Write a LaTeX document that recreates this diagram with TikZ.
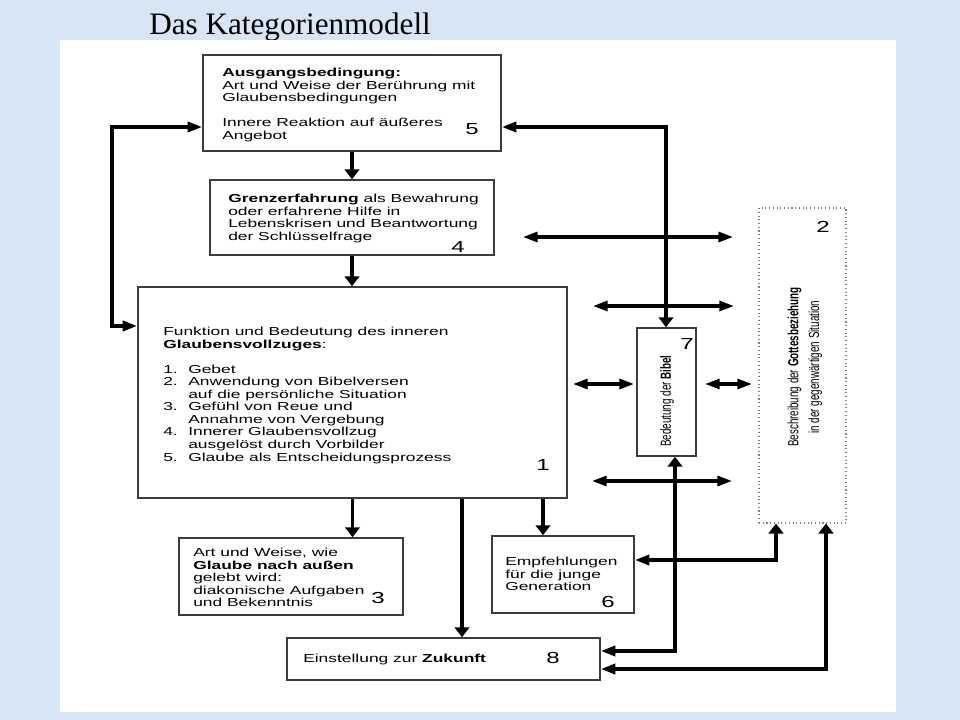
\documentclass[tikz,border=0pt]{standalone}
\usepackage{fontspec}
\setmainfont{Liberation Serif}
\newfontfamily\bxfont[FakeStretch=1.5]{Liberation Sans}
\newfontfamily\rtfont[FakeStretch=0.67]{Liberation Sans}
\usetikzlibrary{arrows.meta,fit}
\definecolor{bgblue}{RGB}{216,229,245}
\definecolor{edgegray}{RGB}{60,60,60}
\tikzset{
  vtip/.tip={Triangle[length=7.5pt,width=11pt]},
  htip/.tip={Triangle[length=11pt,width=7.5pt]}
}
\begin{document}
\begin{tikzpicture}[x=0.75pt,y=-0.75pt,
  box/.style={draw=edgegray,line width=1.1pt,fill=white,inner sep=0pt},
  dotbox/.style={draw=gray,line width=0.8pt,dotted,fill=white,inner sep=0pt},
  txt/.style={font=\bxfont\fontsize{8.7pt}{9.4pt}\selectfont,align=left,inner sep=0pt,anchor=north west},
  num/.style={font=\bxfont\fontsize{12pt}{12pt}\selectfont,inner sep=0pt},
  rtxt/.style={font=\rtfont\fontsize{11pt}{15.5pt}\selectfont,align=center,inner sep=0pt,rotate=90},
  conn/.style={line width=2.7pt},
  dconn/.style={line width=2.3pt,htip-htip}
]
\useasboundingbox (0,0) rectangle (960,720);
\fill[bgblue] (0,0) rectangle (960,720);
\node[anchor=base west,inner sep=0pt,font=\fontsize{23.4pt}{28pt}\selectfont] (title) at (149,35) {Das Kategorienmodell};
\fill[white] (60,40) rectangle (896,712);

% boxes
\node[box,fit={(203,55)(501,151)}] (b5) {};
\node[box,fit={(210,180)(494,255)}] (b4) {};
\node[box,fit={(138,287)(567,498)}] (b1) {};
\node[box,fit={(637,328)(696,456)}] (b7) {};
\node[dotbox,fit={(759,208)(846,523)}] (b2) {};
\node[box,fit={(179,538)(403,615)}] (b3) {};
\node[box,fit={(492,536)(634,613)}] (b6) {};
\node[box,fit={(287,638)(600,680)}] (b8) {};

% texts
\node[txt] (t5) at (222,68) {\textbf{Ausgangsbedingung:}\\Art und Weise der Berührung mit\\Glaubensbedingungen\\[9.4pt]Innere Reaktion auf äußeres\\Angebot};
\node[txt] (t4) at (228,194) {\textbf{Grenzerfahrung} als Bewahrung\\oder erfahrene Hilfe in\\Lebenskrisen und Beantwortung\\der Schlüsselfrage};
\node[txt] (t1) at (163,327) {Funktion und Bedeutung des inneren\\\textbf{Glaubensvollzuges}:\\[9.4pt]%
\makebox[18.75pt][l]{1.}Gebet\\
\makebox[18.75pt][l]{2.}Anwendung von Bibelversen\\
\hspace*{18.75pt}auf die persönliche Situation\\
\makebox[18.75pt][l]{3.}Gefühl von Reue und\\
\hspace*{18.75pt}Annahme von Vergebung\\
\makebox[18.75pt][l]{4.}Innerer Glaubensvollzug\\
\hspace*{18.75pt}ausgelöst durch Vorbilder\\
\makebox[18.75pt][l]{5.}Glaube als Entscheidungsprozess};
\node[txt] (t3) at (193,548) {Art und Weise, wie\\\textbf{Glaube nach außen}\\gelebt wird:\\diakonische Aufgaben\\und Bekenntnis};
\node[txt] (t6) at (505,557) {Empfehlungen\\für die junge\\Generation};
\node[txt] (t8) at (303,654) {Einstellung zur \textbf{Zukunft}};
\node[rtxt] (t7) at (667,401) {Bedeutung der \textbf{Bibel}};
\node[rtxt] (t2) at (805,367) {Beschreibung der \textbf{Gottesbeziehung}\\in der gegenwärtigen Situation};

% numbers
\node[num] (n5) at (472,129) {5};
\node[num] (n4) at (458,247) {4};
\node[num] (n1) at (543,465) {1};
\node[num] (n3) at (378,598) {3};
\node[num] (n8) at (553,658) {8};
\node[num] (n6) at (608,602) {6};
\node[num] (n7) at (687,344) {7};
\node[num] (n2) at (823,227) {2};

% helper coordinates
\coordinate (lp) at (112,127);
\coordinate (lq) at (112,326);
\coordinate (rp) at (666,127);
\coordinate (bp) at (675,651);
\coordinate (cp) at (776,560);
\coordinate (dp) at (826,669);
\coordinate (xa) at (462,600);
\coordinate (xb) at (543,600);
\coordinate (d1a) at (523,237); \coordinate (d1b) at (733,237);
\coordinate (d2a) at (593,306); \coordinate (d2b) at (734,306);
\coordinate (d3a) at (573,384); \coordinate (d3b) at (634,384);
\coordinate (d4a) at (705,384); \coordinate (d4b) at (752,384);
\coordinate (d5a) at (592,481); \coordinate (d5b) at (732,481);

% connectors
\draw[conn,-vtip] (b5.south) -- (b4.north);
\draw[conn,-vtip] (b4.south) -- (b4.south |- b1.north);
\draw[conn,htip-htip] (lp -| b5.west) -- (lp) -- (lq) -- (lq -| b1.west);
\draw[conn,htip-vtip] (rp -| b5.east) -- (rp) -- (rp |- b7.north);
\draw[conn,vtip-htip] (bp |- b7.south) -- (bp) -- (bp -| b8.east);
\draw[conn,vtip-htip] (cp |- b2.south) -- (cp) -- (cp -| b6.east);
\draw[conn,vtip-htip] (dp |- b2.south) -- (dp) -- (dp -| b8.east);
\draw[conn,-vtip] (b1.south) -- (b1.south |- b3.north);
\draw[conn,-vtip] (xa |- b1.south) -- (xa |- b8.north);
\draw[conn,-vtip] (xb |- b1.south) -- (xb |- b6.north);
\draw[dconn] (d1a) -- (d1b);
\draw[dconn] (d2a) -- (d2b);
\draw[dconn] (d3a) -- (d3b);
\draw[dconn] (d4a) -- (d4b);
\draw[dconn] (d5a) -- (d5b);
\end{tikzpicture}
\end{document}
